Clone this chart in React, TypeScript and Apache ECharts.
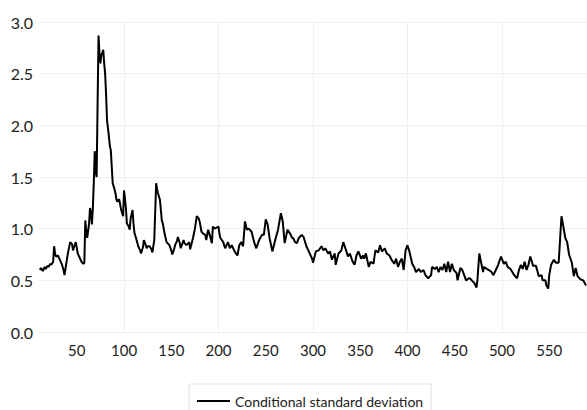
import React, { useEffect, useRef } from "react";
import * as echarts from "echarts";

const periods: number[] = [
  11, 12, 14, 16, 17, 19, 20, 22, 23, 25, 26, 27, 28, 30, 32, 34, 36, 37, 40, 41,
  43, 45, 46, 47, 49, 51, 53, 55, 57, 58, 59, 60, 61, 63, 64, 65, 66, 67, 68, 69,
  70, 71, 72, 73, 74, 75, 76, 77, 78, 79, 80, 81, 82, 84, 85, 86, 87, 88, 90, 91,
  92, 93, 94, 95, 97, 99, 100, 102, 103, 105, 106, 107, 109, 110, 111, 113, 115, 117, 118, 120,
  121, 123, 124, 125, 127, 129, 130, 132, 134, 135, 136, 138, 140, 141, 143, 145, 147, 148, 150, 151,
  153, 154, 156, 157, 159, 160, 163, 164, 166, 169, 170, 173, 175, 177, 179, 180, 182, 184, 186, 187,
  189, 191, 193, 194, 196, 198, 200, 201, 202, 205, 207, 210, 212, 214, 217, 220, 222, 224, 226, 228,
  230, 232, 235, 238, 240, 243, 246, 248, 250, 252, 254, 257, 260, 263, 266, 268, 270, 273, 276, 278,
  279, 281, 283, 285, 288, 290, 293, 296, 299, 300, 303, 306, 309, 311, 313, 316, 318, 320, 323, 324,
  327, 330, 332, 335, 337, 339, 342, 344, 346, 348, 351, 353, 354, 356, 359, 361, 364, 366, 369, 371,
  373, 376, 378, 381, 383, 386, 388, 390, 392, 394, 396, 398, 400, 402, 405, 407, 409, 412, 414, 417,
  419, 422, 425, 426, 429, 431, 433, 435, 437, 439, 441, 443, 445, 447, 449, 452, 453, 456, 458, 460,
  462, 465, 466, 469, 471, 473, 474, 476, 478, 480, 481, 484, 486, 489, 491, 494, 496, 497, 499, 502,
  504, 506, 509, 511, 513, 516, 518, 520, 522, 524, 526, 528, 530, 532, 533, 536, 539, 542, 543, 546,
  547, 549, 550, 552, 555, 557, 560, 563, 565, 567, 569, 571, 574, 576, 578, 580, 583, 586, 589,
];

const conditionalSd: number[] = [
  0.60, 0.62, 0.59, 0.63, 0.61, 0.64, 0.63, 0.66, 0.65, 0.68, 0.83, 0.76, 0.73, 0.74, 0.70, 0.66, 0.60, 0.55, 0.73, 0.78,
  0.87, 0.85, 0.79, 0.82, 0.87, 0.76, 0.72, 0.68, 0.66, 0.67, 1.08, 0.98, 0.91, 1.05, 1.20, 1.15, 1.04, 1.20, 1.45, 1.75,
  1.55, 1.50, 2.20, 2.87, 2.70, 2.60, 2.68, 2.70, 2.73, 2.60, 2.50, 2.30, 2.05, 1.89, 1.80, 1.76, 1.60, 1.44, 1.38, 1.34,
  1.28, 1.26, 1.28, 1.28, 1.18, 1.12, 1.37, 1.20, 1.05, 1.02, 0.99, 1.10, 1.18, 1.05, 0.96, 0.90, 0.83, 0.79, 0.76, 0.82,
  0.89, 0.84, 0.81, 0.83, 0.83, 0.80, 0.77, 0.89, 1.44, 1.38, 1.34, 1.28, 1.08, 1.05, 0.95, 0.87, 0.85, 0.84, 0.79, 0.75,
  0.80, 0.84, 0.88, 0.92, 0.86, 0.81, 0.89, 0.86, 0.84, 0.87, 0.80, 0.91, 1.00, 1.12, 1.10, 1.07, 0.97, 0.95, 0.94, 0.89,
  0.99, 0.93, 0.86, 1.02, 1.00, 1.01, 1.02, 0.95, 0.91, 0.87, 0.81, 0.87, 0.81, 0.84, 0.78, 0.74, 0.84, 0.87, 0.83, 1.07,
  0.99, 1.00, 0.97, 0.86, 0.81, 0.89, 0.94, 0.94, 1.09, 1.04, 0.91, 0.78, 0.89, 0.99, 1.15, 1.07, 0.86, 0.99, 0.95, 0.91,
  0.91, 0.87, 0.86, 0.91, 0.94, 0.92, 0.83, 0.77, 0.71, 0.67, 0.78, 0.79, 0.83, 0.79, 0.81, 0.76, 0.78, 0.70, 0.76, 0.65,
  0.76, 0.79, 0.87, 0.79, 0.73, 0.76, 0.68, 0.65, 0.74, 0.78, 0.71, 0.74, 0.71, 0.76, 0.63, 0.68, 0.66, 0.79, 0.77, 0.84,
  0.78, 0.81, 0.76, 0.74, 0.70, 0.66, 0.71, 0.63, 0.68, 0.71, 0.60, 0.79, 0.84, 0.78, 0.66, 0.63, 0.58, 0.61, 0.58, 0.60,
  0.55, 0.52, 0.55, 0.63, 0.61, 0.63, 0.58, 0.63, 0.60, 0.66, 0.58, 0.68, 0.58, 0.66, 0.60, 0.57, 0.50, 0.62, 0.60, 0.55,
  0.50, 0.52, 0.52, 0.49, 0.47, 0.43, 0.50, 0.76, 0.67, 0.58, 0.63, 0.61, 0.60, 0.58, 0.55, 0.61, 0.65, 0.68, 0.73, 0.66,
  0.68, 0.63, 0.61, 0.58, 0.55, 0.52, 0.60, 0.65, 0.61, 0.68, 0.60, 0.65, 0.73, 0.67, 0.64, 0.64, 0.54, 0.55, 0.50, 0.50,
  0.45, 0.42, 0.55, 0.65, 0.70, 0.67, 0.67, 1.12, 1.02, 0.91, 0.87, 0.75, 0.67, 0.54, 0.62, 0.54, 0.51, 0.50, 0.45,
];

const xLabelValues: number[] = [50, 100, 150, 200, 250, 300, 350, 400, 450, 500, 550];
const xGridValues: number[] = [100, 200, 300, 400, 500];
const seriesName = "Conditional standard deviation";

export default function App() {
  const ref = useRef<HTMLDivElement>(null);
  useEffect(() => {
    document.body.style.margin = "0";
    if (!ref.current) return;
    const chart = echarts.init(ref.current, null, { renderer: "svg" });
    const font = "Lato, 'Open Sans', sans-serif";
    chart.setOption({
      animation: false,
      backgroundColor: "#ffffff",
      textStyle: { fontFamily: font },
      grid: { left: 39, right: 0, top: 22, bottom: 78 },
      xAxis: [
        {
          type: "value",
          min: 10,
          max: 590,
          axisLine: { show: false },
          axisTick: { show: false },
          splitLine: { show: false },
          axisLabel: {
            customValues: xLabelValues,
            fontSize: 15,
            color: "#222",
            margin: 10,
            fontFamily: font,
          },
        },
        {
          type: "value",
          min: 10,
          max: 590,
          position: "bottom",
          axisLine: { show: false },
          axisTick: { show: false, customValues: xGridValues },
          splitLine: { show: true, lineStyle: { color: "#efefef", width: 1 } },
          axisLabel: {
            customValues: xGridValues,
            color: "rgba(0,0,0,0)",
            formatter: () => "",
          },
        },
      ],
      yAxis: {
        type: "value",
        min: 0,
        max: 3,
        interval: 0.5,
        axisLine: { show: false },
        axisTick: { show: false },
        splitLine: { show: true, lineStyle: { color: "#efefef", width: 1 } },
        axisLabel: {
          fontSize: 16,
          color: "#222",
          margin: 6,
          fontFamily: font,
          formatter: (v: number) => v.toFixed(1),
        },
      },
      legend: {
        left: 189,
        top: 384,
        padding: [10, 8, 10, 8],
        borderColor: "#e2e2e2",
        borderWidth: 1,
        icon: "rect",
        itemWidth: 33,
        itemHeight: 2,
        itemGap: 5,
        textStyle: { fontSize: 14, color: "#222", fontFamily: font },
        data: [seriesName],
      },
      series: [
        {
          name: seriesName,
          type: "line",
          xAxisIndex: 0,
          symbol: "none",
          showSymbol: false,
          lineStyle: { color: "#000000", width: 2 },
          itemStyle: { color: "#000000" },
          data: periods.map((p, i) => [p, conditionalSd[i]]),
        },
      ],
    });
    return () => chart.dispose();
  }, []);
  return <div ref={ref} style={{ width: 587, height: 410 }} />;
}
